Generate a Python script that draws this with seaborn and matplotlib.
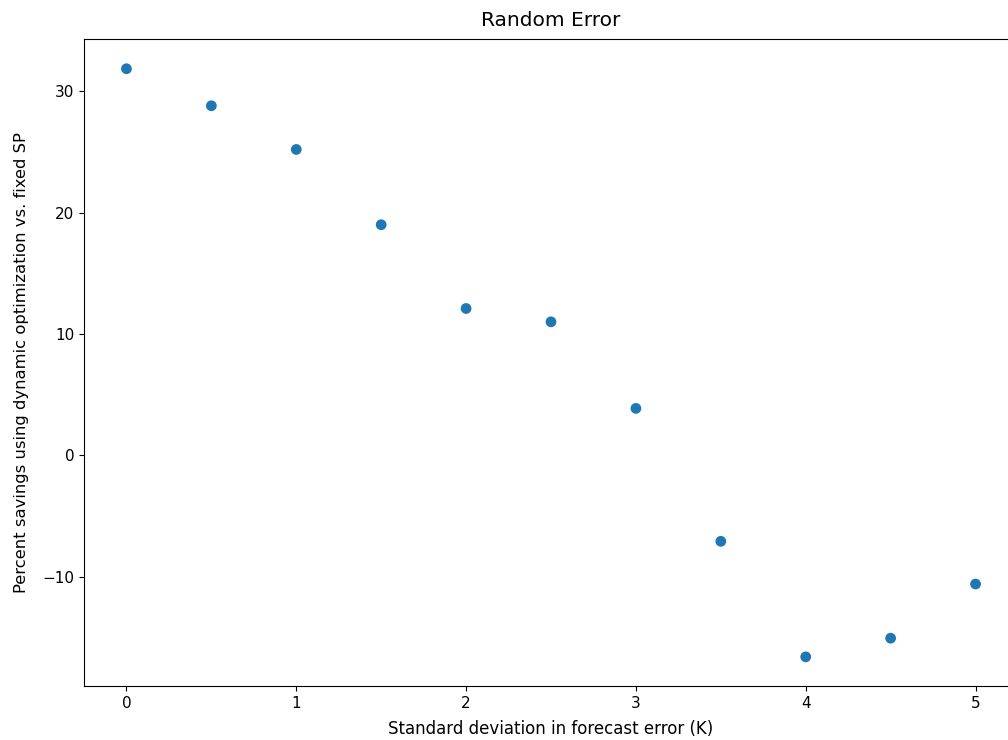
import matplotlib
matplotlib.use("Agg")
import matplotlib.pyplot as plt
import seaborn as sns
import pandas as pd

std_dev = [0, 0.5, 1, 1.5, 2, 2.5, 3, 3.5, 4, 4.5, 5]
savings = [31.85, 28.8, 25.2, 19.0, 12.1, 11.0, 3.87, -7.08, -16.6, -15.06, -10.6]

df = pd.DataFrame({"std": std_dev, "savings": savings})

fig = plt.figure(figsize=(10.08, 7.40), dpi=100)
ax = fig.add_axes([84 / 1008, 1 - 686 / 740, (1018 - 84) / 1008, (686 - 39) / 740])
sns.scatterplot(data=df, x="std", y="savings", ax=ax, color="#1f77b4",
                s=60, edgecolor="none", linewidth=0)
ax.set_xlim(-0.25, 5.25)
ax.set_ylim(-19.0, 34.3)
ax.tick_params(labelsize=11)
ax.set_title("Random Error", fontsize=14.5, pad=9)
ax.set_xlabel("Standard deviation in forecast error (K)", fontsize=12)
ax.set_ylabel("Percent savings using dynamic optimization vs. fixed SP", fontsize=11.8)
ax.xaxis.set_label_coords(0.5, -0.052)
ax.yaxis.set_label_coords(-0.059, 0.5)
fig.savefig("out.png", dpi=100)
